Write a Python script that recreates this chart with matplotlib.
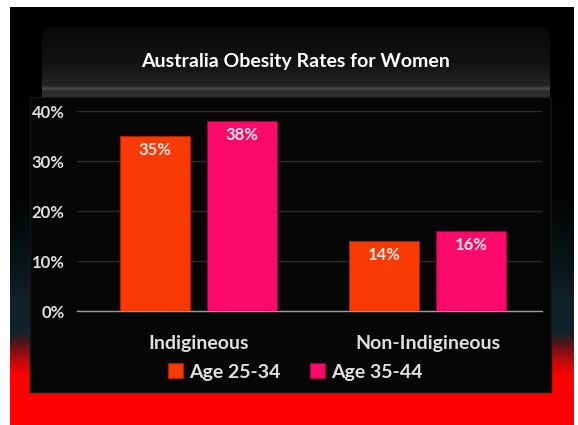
import numpy as np
import matplotlib
matplotlib.use("Agg")
import matplotlib.pyplot as plt
from matplotlib.patches import Rectangle
from matplotlib.colors import LinearSegmentedColormap

categories = ["Indigineous", "Non-Indigineous"]
series_names = ["Age 25-34", "Age 35-44"]
age_25_34 = [0.35, 0.14]
age_35_44 = [0.38, 0.16]
yticks = [0, 0.1, 0.2, 0.3, 0.4]
ytick_labels = ["0%", "10%", "20%", "30%", "40%"]
title = "Australia Obesity Rates for Women"

plt.rcParams['font.family'] = ['Lato', 'DejaVu Sans']

W, H = 578, 425
fig = plt.figure(figsize=(W / 100, H / 100), dpi=100)
fig.patch.set_facecolor("white")

def fx(px):
    return px / W

def fy(py):
    return 1 - py / H

# background gradient (from y=7 to y=425)
top_px, bot_px = 7, 425
def s(py):
    return (py - top_px) / (bot_px - top_px)

bg = fig.add_axes([fx(10), 0, fx(574) - fx(10), fy(top_px)], zorder=0)
bg.set_axis_off()
cmap = LinearSegmentedColormap.from_list(
    "bg",
    [(0.0, "#000000"), (s(200), "#030405"), (s(270), "#0a1619"), (s(300), "#0f2228"),
     (s(333), "#10232a"), (s(345), "#5a1418"), (s(365), "#d00808"),
     (s(378), "#ff0000"), (1.0, "#ff0000")])
grad = np.linspace(0, 1, 418).reshape(-1, 1)
bg.imshow(grad, aspect="auto", cmap=cmap, extent=[0, 1, 0, 1], origin="upper")
bg.set_xlim(0, 1)
bg.set_ylim(0, 1)

# panel
bg.add_patch(Rectangle((fx(30), fy(392)), fx(551) - fx(30), fy(97) - fy(392),
                       transform=fig.transFigure, facecolor="#060606",
                       edgecolor="#161616", lw=1, zorder=5))
# title box gradient
tb = fig.add_axes([fx(42), fy(97), fx(550) - fx(42), fy(27) - fy(97)], zorder=1)
tb.set_axis_off()
tcmap = LinearSegmentedColormap.from_list(
    "tb", [(0, "#080808"), (0.5, "#121212"), (0.84, "#232323"), (0.88, "#4a4a4a"),
           (0.92, "#2a2a2a"), (1.0, "#303030")])
tb.imshow(np.linspace(0, 1, 200).reshape(-1, 1), aspect="auto", cmap=tcmap,
          extent=[0, 1, 0, 1], origin="upper")
fig.text(fx(296), fy(62), title, ha="center", va="center", color="white",
         fontsize=14, fontweight="bold", zorder=10)

# main axes
ax = fig.add_axes([fx(77), fy(311), fx(542) - fx(77), fy(111) - fy(311)], zorder=2)
ax.set_facecolor("none")
x = np.arange(len(categories))
bw = 0.3057
off = 0.19
c1, c2 = "#f93a05", "#fb0a6b"
b1 = ax.bar(x - off, age_25_34, bw, color=c1, edgecolor="#a82000", lw=0.8, zorder=3,
            label=series_names[0])
b2 = ax.bar(x + off, age_35_44, bw, color=c2, edgecolor="#a0003c", lw=0.8, zorder=3,
            label=series_names[1])
for bars in (b1, b2):
    for r in bars:
        ax.text(r.get_x() + r.get_width() / 2, r.get_height() - 0.012,
                f"{r.get_height() * 100:.0f}%", ha="center", va="top",
                color="#e8e8e8", fontsize=12, fontweight="bold", zorder=4)

ax.set_xlim(-0.5306, 1.5)
ax.set_ylim(0, 0.4)
ax.set_yticks(yticks)
ax.set_yticklabels(ytick_labels)
ax.set_xticks(x)
ax.set_xticklabels(categories)
ax.yaxis.grid(True, color="#2a2a2a", lw=1, zorder=0)
ax.set_axisbelow(True)
for sp in ["top", "right", "left"]:
    ax.spines[sp].set_visible(False)
ax.spines["bottom"].set_color("#9a9a9a")
ax.spines["bottom"].set_linewidth(1)
ax.tick_params(axis="y", length=0, pad=9, labelcolor="#e0e0e0", labelsize=12)
ax.tick_params(axis="x", length=0, pad=17, labelcolor="#e0e0e0", labelsize=14)
for t in ax.get_yticklabels() + ax.get_xticklabels():
    t.set_fontweight("bold")

leg = fig.legend(handles=[b1, b2], labels=series_names, loc="center",
                 bbox_to_anchor=(fx(295), fy(372)), ncol=2, frameon=False,
                 fontsize=14, handlelength=0.8, handleheight=0.8,
                 handletextpad=0.3, columnspacing=1.5)
leg.set_zorder(10)
for t in leg.get_texts():
    t.set_color("#e0e0e0")
    t.set_fontweight("bold")

fig.savefig("out.png", dpi=100, facecolor=fig.get_facecolor())
